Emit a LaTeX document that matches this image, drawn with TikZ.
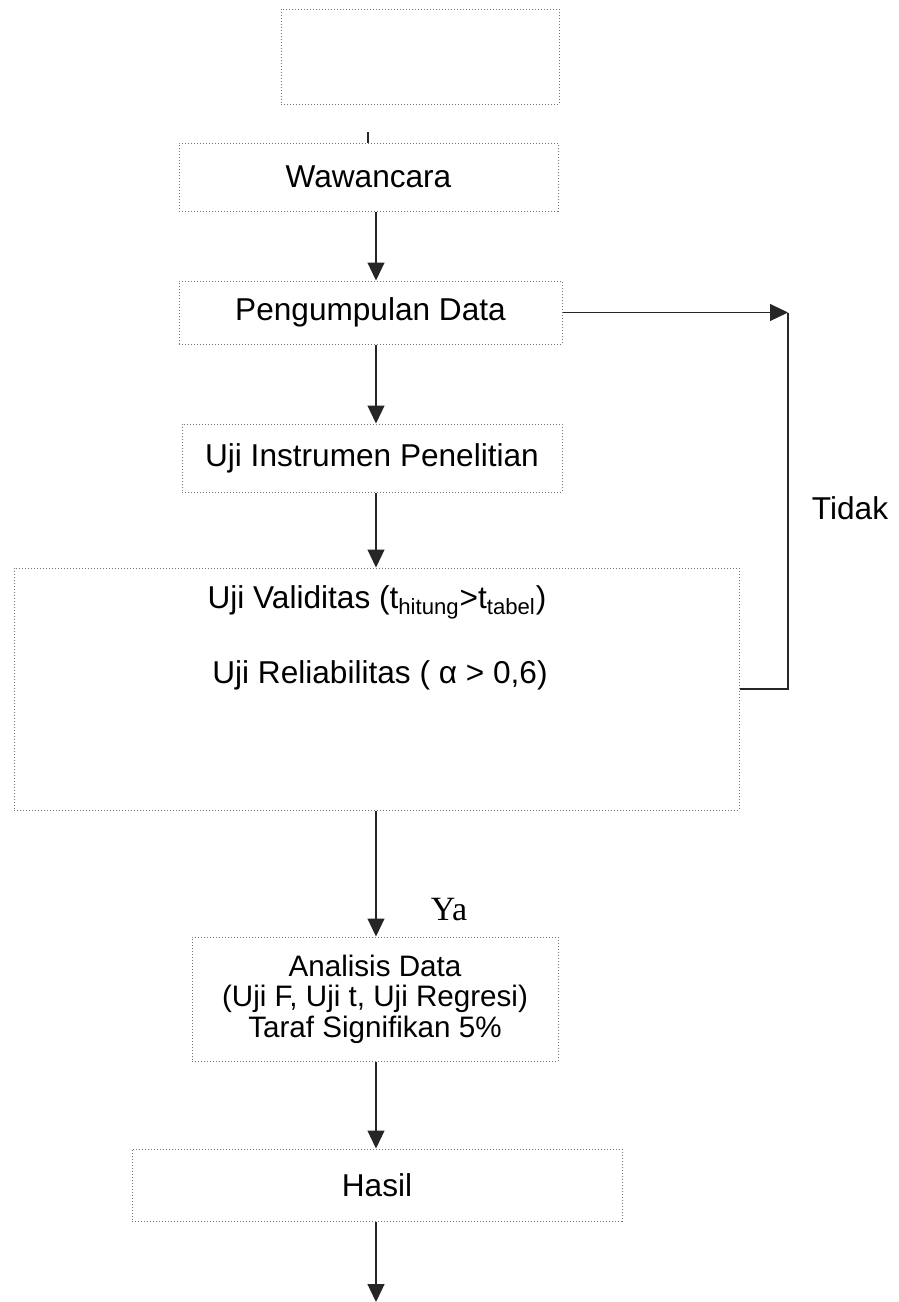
\documentclass[tikz,border=0pt]{standalone}
\usepackage{fontspec}
\setmainfont{Liberation Sans}
\newfontfamily\yafont{Liberation Serif}
\usetikzlibrary{arrows.meta, positioning}
\tikzset{
  box/.style={draw=black!55, densely dotted, line width=0.5pt, inner sep=0pt, align=center},
  arr/.style={-{Triangle[length=9pt,width=8.5pt]}, line width=0.6pt, draw=black!85},
  link/.style={line width=0.6pt, draw=black!85},
  txt/.style={font=\fontsize{15.8}{18}\selectfont},
}

\begin{document}
\begin{tikzpicture}[x=0.5pt,y=-0.5pt]
			\useasboundingbox (0,0) rectangle (899,1302);
			% boxes
			\node[box, minimum width=139pt, minimum height=47.5pt] (mulai) at (420,56.5) {};
			\node[box, txt, minimum width=189.5pt, minimum height=34pt] (waw) at (368.5,177) {Wawancara};
			\node[box, txt, minimum width=191.5pt, minimum height=31.5pt] (peng) at (370.5,312.5) {Pengumpulan Data};
			\node[box, txt, minimum width=190pt, minimum height=34pt] (instr) at (372,458) {Uji Instrumen Penelitian};
			\node[box, minimum width=362.5pt, minimum height=121pt] (uji) at (376.5,689) {};
			\node[box, minimum width=183pt, minimum height=62pt, font=\fontsize{14.8}{15.2}\selectfont] (analisis) at (375,999)
				{Analisis Data\\(Uji F, Uji t, Uji Regresi)\\Taraf Signifikan 5\%};
			\node[box, txt, minimum width=245pt, minimum height=36pt] (hasil) at (377,1185) {Hasil};
			% text in test box
			\node[font=\fontsize{15.8}{18}\selectfont] (valid) at (377,602) {Uji Validitas (t\textsubscript{hitung}>t\textsubscript{tabel})};
			\node[font=\fontsize{15.8}{18}\selectfont] (reli) at (380,675) {Uji Reliabilitas ( α > 0,6)};
			% labels
			\node[txt] (tidak) at (850,508) {Tidak};
			\node[font=\yafont\fontsize{17}{18}\selectfont] (ya) at (449,910) {Ya};
			% connectors
			\coordinate (axis) at (376,0);
			\coordinate (stub) at (368,132);
			\coordinate (balik) at (788,312.5);
			\coordinate (akhir) at (379,1302);
			\draw[link] (stub) -- (stub |- waw.north);
			\draw[arr] (waw.south -| axis) -- (peng.north -| axis);
			\draw[arr] (peng.south -| axis) -- (instr.north -| axis);
			\draw[arr] (instr.south -| axis) -- (uji.north -| axis);
			\draw[arr] (uji.south -| axis) -- (analisis.north -| axis);
			\draw[arr] (analisis.south -| axis) -- (hasil.north -| axis);
			\draw[arr] (hasil.south -| axis) -- (akhir -| axis);
			% back loop
			\draw[link] (uji.east) -| (balik);
			\draw[arr] (peng.east) -- (balik);
		\end{tikzpicture}
\end{document}
